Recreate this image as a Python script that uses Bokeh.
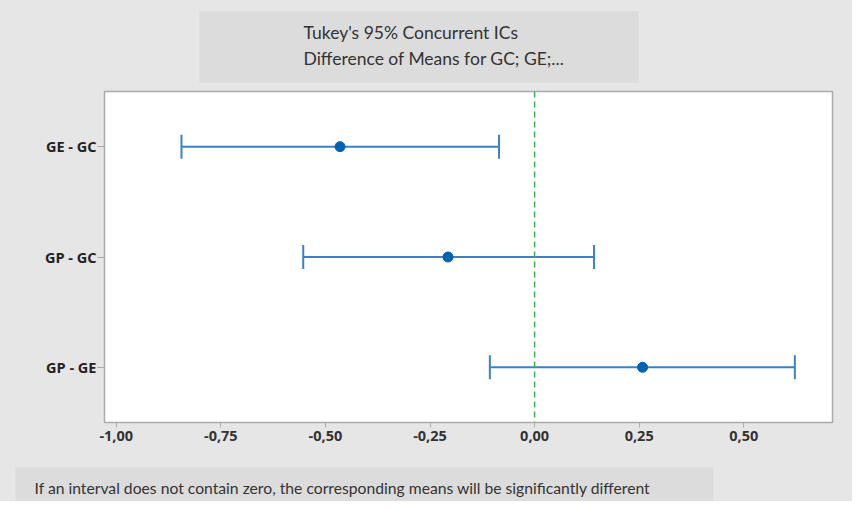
from bokeh.plotting import figure
from bokeh.layouts import column
from bokeh.models import (ColumnDataSource, Whisker, Span, Label,
                          FixedTicker, TeeHead, FactorRange, Range1d)
from bokeh.embed import file_html
from bokeh.resources import INLINE

# ---- data ----
comparisons = ["GE - GC", "GP - GC", "GP - GE"]
lower = [-0.844, -0.553, -0.107]
center = [-0.465, -0.207, 0.258]
upper = [-0.085, 0.142, 0.622]
x_ticks = [-1.0, -0.75, -0.5, -0.25, 0.0, 0.25, 0.5]
x_tick_labels = ["-1,00", "-0,75", "-0,50", "-0,25", "0,00", "0,25", "0,50"]
title_lines = ["Tukey's 95% Concurrent ICs", "Difference of Means for GC; GE;..."]
footnote = "If an interval does not contain zero, the corresponding means will be significantly different"

BG = "#e6e6e6"
BOX = "#dcdcdc"
EDGE = "#ababab"
BLUE_LINE = "#3d80c6"
BLUE_DOT = "#0062b1"
GREEN = "#3cae55"
TXT = "#333333"

W = 852


def text_panel(height, left, right, top, bottom):
    f = figure(width=W, height=height, output_backend="svg", toolbar_location=None,
               x_axis_type=None, y_axis_type=None, frame_align=False,
               min_border_left=left, min_border_right=right,
               min_border_top=top, min_border_bottom=bottom)
    fw = W - left - right
    fh = height - top - bottom
    f.x_range = Range1d(0, fw)
    f.y_range = Range1d(0, fh)
    f.background_fill_color = BOX
    f.border_fill_color = BG
    f.outline_line_color = None
    f.grid.visible = False
    return f, fw, fh


# ---- title panel ----
tp, tw, th = text_panel(85, 199, 214, 11, 3)
for txt, yy in zip(title_lines, [50, 24]):
    tp.add_layout(Label(x=104, y=yy, text=txt, text_font="Lato",
                        text_font_size="17.5px", text_color=TXT,
                        text_baseline="alphabetic", text_align="left"))

# ---- main chart ----
p = figure(width=W, height=375, output_backend="svg", toolbar_location=None,
           frame_align=False,
           x_range=Range1d(-1.028, 0.712),
           y_range=FactorRange(factors=comparisons[::-1]),
           min_border_left=104, min_border_right=20,
           min_border_top=6, min_border_bottom=38)

p.background_fill_color = "white"
p.border_fill_color = BG
p.outline_line_color = EDGE
p.outline_line_width = 1.5
p.grid.visible = False

p.xaxis.ticker = FixedTicker(ticks=x_ticks)
p.xaxis.major_label_overrides = {t: l for t, l in zip(x_ticks, x_tick_labels)}
p.xaxis.major_tick_out = 5
p.xaxis.major_tick_in = 0
p.xaxis.minor_tick_line_color = None
p.xaxis.axis_line_color = EDGE
p.xaxis.major_tick_line_color = EDGE
p.xaxis.major_label_text_font = "Open Sans"
p.xaxis.major_label_text_font_style = "bold"
p.xaxis.major_label_text_font_size = "14.5px"
p.xaxis.major_label_text_color = TXT
p.xaxis.major_label_standoff = 3

p.yaxis.major_tick_out = 7
p.yaxis.major_tick_in = 0
p.yaxis.axis_line_color = EDGE
p.yaxis.major_tick_line_color = EDGE
p.yaxis.major_label_text_font = "Open Sans"
p.yaxis.major_label_text_font_style = "bold"
p.yaxis.major_label_text_font_size = "14.5px"
p.yaxis.major_label_text_color = "#222222"
p.yaxis.major_label_standoff = 1

src = ColumnDataSource(dict(y=comparisons, lower=lower, upper=upper, center=center))

whisk = Whisker(base="y", lower="lower", upper="upper", dimension="width", source=src,
                line_color=BLUE_LINE, line_width=2,
                upper_head=TeeHead(size=24, line_color=BLUE_LINE, line_width=2),
                lower_head=TeeHead(size=24, line_color=BLUE_LINE, line_width=2))
p.add_layout(whisk)

p.scatter(x="center", y="y", source=src, size=10, color=BLUE_DOT)

p.add_layout(Span(location=0, dimension="height", line_color=GREEN,
                  line_dash="6 4", line_width=1.5))

# ---- footnote panel ----
fp, fw_, fh_ = text_panel(41, 15, 139, 7, 0)
fp.add_layout(Label(x=19, y=14, text=footnote, text_font="Lato",
                    text_font_size="15.7px", text_color=TXT,
                    text_baseline="middle", text_align="left"))

layout = column(tp, p, fp, spacing=0, styles={"background-color": BG})
open("out.html", "w").write(file_html(layout, INLINE))
